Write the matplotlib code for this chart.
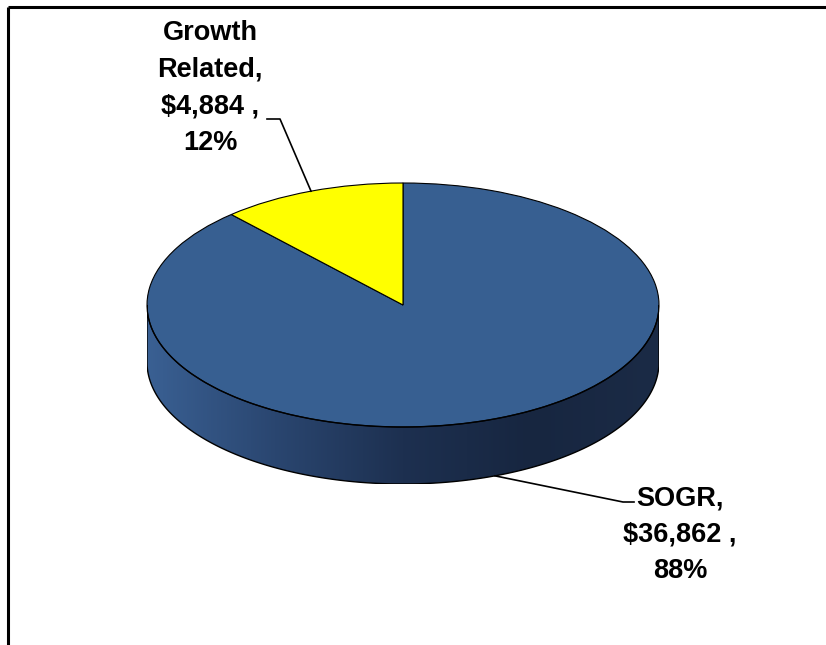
import numpy as np
import matplotlib
matplotlib.use('Agg')
import matplotlib.pyplot as plt
from matplotlib.colors import LinearSegmentedColormap
from matplotlib.patches import Polygon

plt.rcParams['font.family'] = ['Liberation Sans', 'DejaVu Sans']

categories = ['SOGR', 'Growth Related']
values = [36862, 4884]
colors = ['#375f91', '#ffff00']

W, H = 826, 645
fig = plt.figure(figsize=(W / 100, H / 100), dpi=100)

# pie axes: top ellipse spans x 147..659, y 183..427 px, side 57 px deep
depth = 57 / 122
px0, px1, ptop, pbot = 147, 659, 183, 427 + 57
ax = fig.add_axes([px0 / W, (H - pbot) / H, (px1 - px0) / W, (pbot - ptop) / H])
ax.axis('off')

# side of the cylinder with a dark gradient
t = np.linspace(np.pi, 2 * np.pi, 200)
side = np.concatenate([np.c_[np.cos(t), np.sin(t)],
                       np.c_[np.cos(t[::-1]), np.sin(t[::-1]) - depth]])
poly = Polygon(side, closed=True, facecolor='none', edgecolor='black', lw=1.0, zorder=2)
ax.add_patch(poly)
cmap = LinearSegmentedColormap.from_list('side', ['#3a6093', '#2a4670', '#1d3050', '#172640', '#1b2b46'])
grad = np.linspace(0, 1, 256).reshape(1, -1)
im = ax.imshow(grad, cmap=cmap, extent=(-1, 1, -1 - depth, 1), aspect='auto', zorder=1)
im.set_clip_path(poly)

ax.pie(values, colors=colors, startangle=90, counterclock=False,
       wedgeprops=dict(edgecolor='black', linewidth=0.8), frame=True)
ax.axis('off')
ax.set_aspect('auto')
ax.set_xlim(-1, 1)
ax.set_ylim(-1 - depth, 1)

# overlay in pixel coordinates for frame, labels and leader lines
ov = fig.add_axes([0, 0, 1, 1], facecolor='none')
ov.set_xlim(0, W)
ov.set_ylim(H, 0)
ov.axis('off')
ov.plot([8, W], [7, 7], color='black', lw=2.2, solid_capstyle='butt')
ov.plot([8, 8], [7, H], color='black', lw=2.2, solid_capstyle='butt')

total = sum(values)
fracs = np.array(values) / total
ends = 90 - 360 * np.cumsum(fracs)
mids = ends + 180 * fracs


def to_px(x, y):
    d = ax.transData.transform((x, y))
    return ov.transData.inverted().transform(d)


label_pos = [(680, 535), (210, 88)]
elbows = [[(623, 502), (634, 502)], [(280, 119), (267, 119)]]
for i, name in enumerate(categories):
    a = np.deg2rad(mids[i])
    ay = np.sin(a) - (depth if np.sin(a) < 0 else 0)
    sx, sy = to_px(np.cos(a), ay)
    (ex, ey), (hx, hy) = elbows[i]
    ov.plot([sx, ex, hx], [sy, ey, hy], color='black', lw=1.2)
    txt = f"{name},\n${values[i]:,} ,\n{fracs[i] * 100:.0f}%"
    if name == 'Growth Related':
        txt = "Growth\nRelated,\n" + f"${values[i]:,} ,\n{fracs[i] * 100:.0f}%"
    ov.text(*label_pos[i], txt, ha='center', va='center', fontsize=19.5,
            fontweight='bold', linespacing=1.52)

fig.savefig('out.png', dpi=100)
